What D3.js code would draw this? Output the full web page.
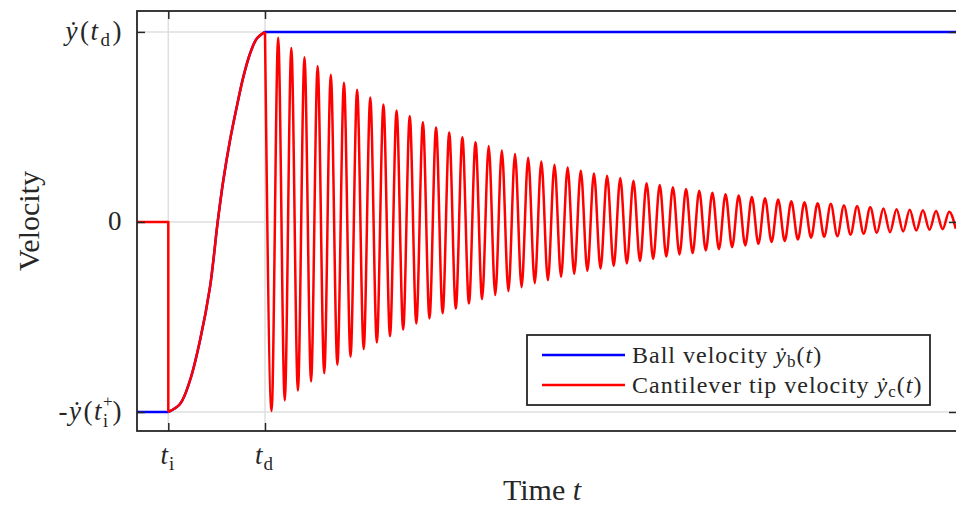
<!DOCTYPE html>
<html>
<head>
<meta charset="utf-8">
<script src="https://cdn.jsdelivr.net/npm/d3@7"></script>
<style>
  body { margin: 0; background: #fff; }
  text { font-family: "Liberation Serif", "DejaVu Serif", serif; fill: #262626; }
</style>
</head>
<body>
<div id="chart"></div>
<script>
var svgWidth = 956;
var svgHeight = 505;

var margin = { top: 11, right: -1, bottom: 74, left: 137 };
var width = svgWidth - margin.left - margin.right;
var height = svgHeight - margin.top - margin.bottom;

// time markers (impact, detachment) and end of record
var tImpact = 1.0;
var tDetach = 4.09;
var tEnd = 26.2;
var halfPeriod = 0.2102;

// contact phase: cantilever tip (and ball) velocity
var riseTime = [1.0, 1.374, 1.693, 2.013, 2.332, 2.578, 2.757, 2.971, 3.185, 3.396, 3.61, 3.824, 4.09];
var riseVel = [-1.0, -0.958, -0.834, -0.624, -0.343, 0.0, 0.218, 0.429, 0.604, 0.762, 0.885, 0.964, 1.0];

// free vibration after detachment: successive maxima and minima
var peakVel = [1.0, 0.969, 0.915, 0.867, 0.82, 0.775, 0.733, 0.696, 0.655, 0.618,
  0.587, 0.557, 0.525, 0.497, 0.471, 0.446, 0.42, 0.399, 0.376, 0.357,
  0.338, 0.318, 0.301, 0.287, 0.269, 0.255, 0.243, 0.231, 0.217, 0.204,
  0.194, 0.183, 0.173, 0.164, 0.154, 0.146, 0.139, 0.131, 0.125, 0.118,
  0.109, 0.104, 0.099, 0.096, 0.087, 0.082, 0.078, 0.071, 0.067, 0.064,
  0.061, 0.057, 0.054];
var troughVel = [-0.995, -0.939, -0.887, -0.839, -0.796, -0.752, -0.709, -0.669, -0.634, -0.601,
  -0.566, -0.534, -0.508, -0.48, -0.455, -0.429, -0.406, -0.385, -0.364, -0.343,
  -0.322, -0.306, -0.288, -0.273, -0.257, -0.245, -0.232, -0.218, -0.206, -0.194,
  -0.182, -0.171, -0.164, -0.15, -0.143, -0.133, -0.124, -0.115, -0.105, -0.1,
  -0.092, -0.083, -0.078, -0.075, -0.067, -0.062, -0.057, -0.054, -0.05, -0.045,
  -0.041, -0.038, -0.036];

var xTicks = [tImpact, tDetach];
var yTicks = [-1, 0, 1];

var svg = d3.select("#chart")
  .append("svg")
  .attr("width", svgWidth)
  .attr("height", svgHeight);

var chartGroup = svg.append("g")
  .attr("transform", `translate(${margin.left}, ${margin.top})`);

var xScale = d3.scaleLinear().domain([0, tEnd]).range([0, width]);
var yScale = d3.scaleLinear().domain([-1.1, 1.11]).range([height, 0]);

// grid
chartGroup.append("g").selectAll("line")
  .data(xTicks).enter().append("line")
  .attr("x1", d => xScale(d)).attr("x2", d => xScale(d))
  .attr("y1", 0).attr("y2", height)
  .attr("stroke", "#dfdfdf").attr("stroke-width", 1.5);
chartGroup.append("g").selectAll("line")
  .data(yTicks).enter().append("line")
  .attr("x1", 0).attr("x2", width)
  .attr("y1", d => yScale(d)).attr("y2", d => yScale(d))
  .attr("stroke", "#dfdfdf").attr("stroke-width", 1.5);

// build the series
var risePts = riseTime.map((t, i) => [t, riseVel[i]]);
var ballBefore = [[0, -1], [tImpact, -1]];
var ballAfter = [[tDetach, 1], [tEnd, 1]];

var tipStep = [[0, 0], [tImpact, 0], [tImpact, -1]];
var tipFree = [[tDetach, peakVel[0]]];
for (var k = 0; k < peakVel.length; k++) {
  if (k > 0) tipFree.push([tDetach + 2 * k * halfPeriod, peakVel[k]]);
  tipFree.push([tDetach + (2 * k + 1) * halfPeriod, troughVel[k]]);
}

svg.append("defs").append("clipPath").attr("id", "clip")
  .append("rect").attr("width", width).attr("height", height);

var plot = chartGroup.append("g").attr("clip-path", "url(#clip)");

var lineLin = d3.line().x(d => xScale(d[0])).y(d => yScale(d[1]));
var lineRise = d3.line().x(d => xScale(d[0])).y(d => yScale(d[1])).curve(d3.curveCatmullRom.alpha(0.5));
var lineOsc = d3.line().x(d => xScale(d[0])).y(d => yScale(d[1])).curve(d3.curveMonotoneX);

var lw = 2.5;
function drawLine(data, gen, color) {
  plot.append("path").datum(data)
    .attr("d", gen).attr("fill", "none")
    .attr("stroke", color).attr("stroke-width", lw)
    .attr("stroke-linejoin", "round");
}
drawLine(ballBefore, lineLin, "#0000ff");
drawLine(risePts, lineRise, "#0000ff");
drawLine(ballAfter, lineLin, "#0000ff");
drawLine(tipStep, lineLin, "#ff0000");
drawLine(risePts, lineRise, "#ff0000");
drawLine(tipFree, lineOsc, "#ff0000");

// axes with inward ticks on all four sides
function styleAxis(g) {
  g.select(".domain").remove();
  g.selectAll(".tick line").attr("stroke", "#262626").attr("stroke-width", 1.5);
  g.selectAll(".tick text").remove();
}
chartGroup.append("g").attr("transform", `translate(0, ${height})`)
  .call(d3.axisBottom(xScale).tickValues(xTicks).tickSize(-8)).call(styleAxis);
chartGroup.append("g")
  .call(d3.axisTop(xScale).tickValues(xTicks).tickSize(-8)).call(styleAxis);
chartGroup.append("g")
  .call(d3.axisLeft(yScale).tickValues(yTicks).tickSize(-8)).call(styleAxis);
chartGroup.append("g").attr("transform", `translate(${width}, 0)`)
  .call(d3.axisRight(yScale).tickValues(yTicks).tickSize(-8)).call(styleAxis);

chartGroup.append("rect")
  .attr("width", width).attr("height", height)
  .attr("fill", "none").attr("stroke", "#262626").attr("stroke-width", 1.8);

// text with italic / sub / superscript pieces
function mathText(g, parts) {
  parts.forEach(function (p) {
    var o = p[1] || {};
    var ts = g.append("tspan").text(p[0]);
    if (o.i) ts.attr("font-style", "italic");
    if (o.fs) ts.attr("font-size", o.fs);
    if (o.dy) ts.attr("dy", o.dy);
    if (o.dx) ts.attr("dx", o.dx);
  });
  return g;
}

var tickFs = 27;
var yLabels = [
  [["-"], ["ẏ", { i: 1 }], ["(", { dx: 1 }], ["t", { i: 1 }], ["+", { fs: 17, dy: -13 }], ["i", { fs: 18, dx: -11, dy: 20 }], [")", { dx: 3, dy: -7 }]],
  [["0"]],
  [["ẏ", { i: 1 }], ["(", { dx: 1 }], ["t", { i: 1 }], ["d", { fs: 19, dy: 6, dx: 1 }], [")", { dy: -6, dx: 1 }]]
];
yTicks.forEach(function (v, i) {
  var t = chartGroup.append("text")
    .attr("x", -14).attr("y", yScale(v) + 8)
    .attr("text-anchor", "end").attr("font-size", tickFs)
    .attr("letter-spacing", 1.5);
  mathText(t, yLabels[i]);
});

var xLabels = [
  [["t", { i: 1 }], ["i", { fs: 19, dy: 6, dx: 1 }]],
  [["t", { i: 1 }], ["d", { fs: 19, dy: 6, dx: 1 }]]
];
xTicks.forEach(function (v, i) {
  var t = chartGroup.append("text")
    .attr("x", xScale(v) - 1).attr("y", height + 33)
    .attr("text-anchor", "middle").attr("font-size", tickFs);
  mathText(t, xLabels[i]);
});

// axis titles
mathText(svg.append("text")
  .attr("x", 542).attr("y", 500)
  .attr("text-anchor", "middle").attr("font-size", 30),
  [["Time "], ["t", { i: 1 }]]);

svg.append("text")
  .attr("transform", "translate(39, 221) rotate(-90)")
  .attr("text-anchor", "middle").attr("font-size", 30)
  .text("Velocity");

// legend
var legend = svg.append("g");
legend.append("rect")
  .attr("x", 527).attr("y", 335).attr("width", 403).attr("height", 70)
  .attr("fill", "#fff").attr("stroke", "#262626").attr("stroke-width", 1.8);
var legendItems = [
  { color: "#0000ff", parts: [["Ball velocity "], ["ẏ", { i: 1 }], ["b", { fs: 17, dy: 4 }], ["(", { dy: -4 }], ["t", { i: 1 }], [")"]] },
  { color: "#ff0000", parts: [["Cantilever tip velocity "], ["ẏ", { i: 1 }], ["c", { fs: 17, dy: 4 }], ["(", { dy: -4 }], ["t", { i: 1 }], [")"]] }
];
legendItems.forEach(function (d, i) {
  var y = 355 + i * 30;
  legend.append("line")
    .attr("x1", 542).attr("x2", 625).attr("y1", y).attr("y2", y)
    .attr("stroke", d.color).attr("stroke-width", lw);
  mathText(legend.append("text").attr("x", 632).attr("y", y + 8)
    .attr("font-size", 24).attr("letter-spacing", 1), d.parts);
});
</script>
</body>
</html>
